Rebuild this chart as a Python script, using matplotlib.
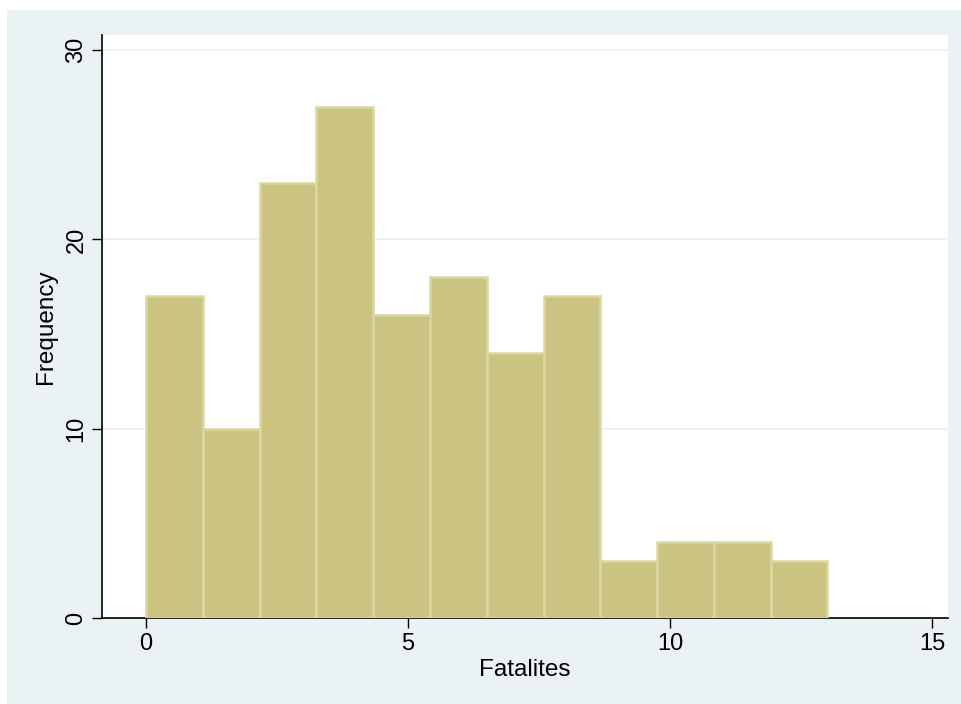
import numpy as np
import matplotlib.pyplot as plt
from matplotlib.patches import Rectangle

# histogram of fatalities: 12 equal bins from 0 to 13
bin_start = 0
bin_end = 13
counts = [17, 10, 23, 27, 16, 18, 14, 17, 3, 4, 4, 3]
x_ticks = [0, 5, 10, 15]
y_ticks = [0, 10, 20, 30]

edges = np.linspace(bin_start, bin_end, len(counts) + 1)
widths = np.diff(edges)

plt.rcParams['font.family'] = ['Liberation Sans', 'DejaVu Sans']

fig = plt.figure(figsize=(9.61, 7.04), dpi=100, facecolor='white')
# stata-style outer panel, kept behind the axes
fig.patches.append(Rectangle((7 / 961, 0), 1, 1 - 10 / 704, transform=fig.transFigure,
                             facecolor='#eaf2f3', edgecolor='none', zorder=-5))

ax = fig.add_axes([102 / 961, 86 / 704, 846 / 961, 583 / 704])
ax.set_facecolor('white')

ax.bar(edges[:-1], counts, width=widths, align='edge', color='#cbc382',
       edgecolor='#dcd69f', linewidth=1.8, zorder=3)

ax.set_xlim(-0.84, 15.3)
ax.set_ylim(0, 30.8)

ax.set_yticks(y_ticks)
ax.set_xticks(x_ticks)
ax.yaxis.grid(True, color='#eaf2f3', linewidth=1.5, zorder=0)
ax.tick_params(axis='both', labelsize=17, length=7, width=1, colors='black')
for lab in ax.get_yticklabels():
    lab.set_rotation(90)
    lab.set_va('center')

for side in ['top', 'right']:
    ax.spines[side].set_visible(False)
ax.spines['left'].set_linewidth(1.2)
ax.spines['bottom'].set_linewidth(1.2)

ax.set_xlabel('Fatalites', fontsize=17.5, labelpad=3)
ax.set_ylabel('Frequency', fontsize=17.5, labelpad=6)

fig.savefig('out.png', dpi=100, facecolor='white')
